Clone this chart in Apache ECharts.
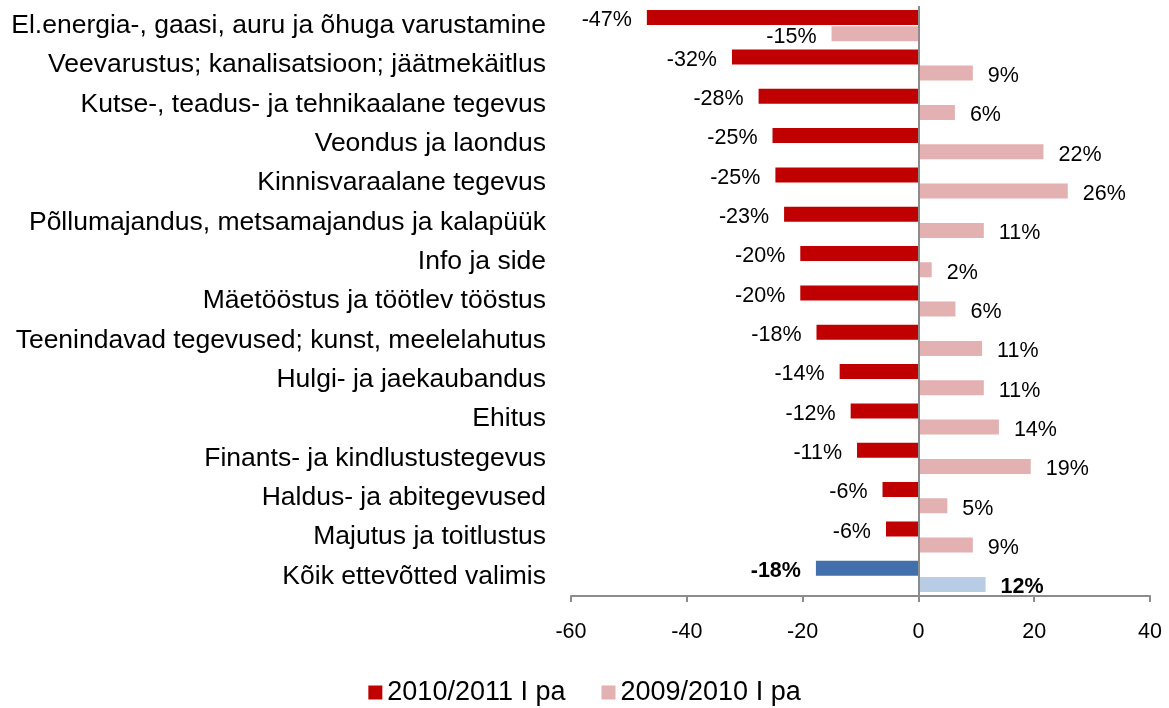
<!DOCTYPE html>
<html>
<head>
<meta charset="utf-8">
<script src="https://cdn.jsdelivr.net/npm/echarts@6/dist/echarts.min.js"></script>
<style>
  html, body { margin: 0; padding: 0; background: #fff; }
  #chart { width: 1169px; height: 708px; }
</style>
</head>
<body>
<div id="chart"></div>
<script>
// Change in sales by sector, top to bottom as in the picture
var categories = [
  "El.energia-, gaasi, auru ja õhuga varustamine",
  "Veevarustus; kanalisatsioon; jäätmekäitlus",
  "Kutse-, teadus- ja tehnikaalane tegevus",
  "Veondus ja laondus",
  "Kinnisvaraalane tegevus",
  "Põllumajandus, metsamajandus ja kalapüük",
  "Info ja side",
  "Mäetööstus ja töötlev tööstus",
  "Teenindavad tegevused; kunst, meelelahutus",
  "Hulgi- ja jaekaubandus",
  "Ehitus",
  "Finants- ja kindlustustegevus",
  "Haldus- ja abitegevused",
  "Majutus ja toitlustus",
  "Kõik ettevõtted valimis"
];
var seriesNames = ["2010/2011 I pa", "2009/2010 I pa"];
var values2011 = [-46.9, -32.2, -27.6, -25.2, -24.7, -23.2, -20.4, -20.4, -17.6, -13.6, -11.7, -10.6, -6.2, -5.6, -17.7];
var values2010 = [-15.0, 9.4, 6.3, 21.6, 25.8, 11.3, 2.3, 6.4, 11.0, 11.3, 13.9, 19.4, 5.0, 9.4, 11.6];
var xTicks = { min: -60, max: 40, interval: 20 };

var FONT = "'Liberation Sans', Arial, sans-serif";
var colors = ["#c00000", "#e3b1b1"];
var totalColors = ["#4170ad", "#b8cce4"];

function buildData(values, idx) {
  var last = values.length - 1;
  return values.map(function (v, i) {
    var item = {
      value: v,
      label: { position: v < 0 ? "left" : "right" }
    };
    if (i === last) {
      item.itemStyle = { color: totalColors[idx] };
      item.label.fontWeight = "bold";
    }
    return item;
  });
}

var labelStyle = {
  show: true,
  distance: 15,
  offset: [0, 3],
  color: "#000",
  fontSize: 21.5,
  fontFamily: FONT,
  formatter: function (p) { return Math.round(p.value) + "%"; }
};

var chart = echarts.init(document.getElementById("chart"), null, { renderer: "canvas" });

chart.setOption({
  animation: false,
  backgroundColor: "#fff",
  textStyle: { fontFamily: FONT },
  grid: { left: 571, right: 19, top: 6, bottom: 112, containLabel: false },
  legend: {
    bottom: -3,
    left: "center",
    icon: "rect",
    itemWidth: 14,
    itemHeight: 14,
    itemGap: 36,
    textStyle: { fontSize: 27, color: "#000", fontFamily: FONT },
    data: seriesNames
  },
  xAxis: {
    type: "value",
    min: xTicks.min,
    max: xTicks.max,
    interval: xTicks.interval,
    splitLine: { show: false },
    axisLine: { show: true, onZero: false, lineStyle: { color: "#8c8c8c", width: 2 } },
    axisTick: { show: true, length: 6, lineStyle: { color: "#8c8c8c", width: 2 } },
    axisLabel: { color: "#000", fontSize: 21.5, fontFamily: FONT, margin: 25 }
  },
  yAxis: {
    type: "category",
    inverse: true,
    data: categories,
    axisLine: { show: false },
    axisTick: { show: false },
    axisLabel: { color: "#000", fontSize: 26.5, fontFamily: FONT, margin: 25 }
  },
  series: [
    {
      name: seriesNames[0],
      type: "bar",
      data: buildData(values2011, 0),
      barWidth: 15,
      barGap: "8%",
      itemStyle: { color: colors[0] },
      label: labelStyle,
      markLine: {
        silent: true,
        symbol: "none",
        label: { show: false },
        lineStyle: { color: "#8c8c8c", width: 2, type: "solid" },
        data: [{ xAxis: 0 }]
      }
    },
    {
      name: seriesNames[1],
      type: "bar",
      data: buildData(values2010, 1),
      barWidth: 15,
      barGap: "8%",
      itemStyle: { color: colors[1] },
      label: labelStyle
    }
  ]
});
</script>
</body>
</html>
